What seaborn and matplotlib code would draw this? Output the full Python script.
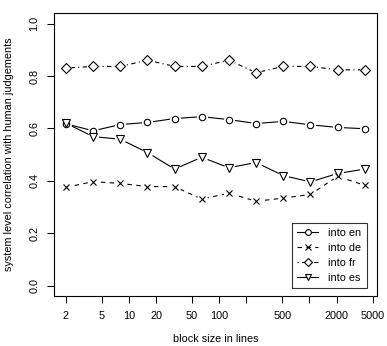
import numpy as np
import pandas as pd
import matplotlib
matplotlib.use("Agg")
import matplotlib.pyplot as plt
from matplotlib.lines import Line2D
import seaborn as sns

block_sizes = [2, 4, 8, 16, 32, 64, 128, 256, 512, 1024, 2048, 4096]
into_en = [0.618, 0.591, 0.615, 0.623, 0.638, 0.645, 0.634, 0.619, 0.627, 0.614, 0.604, 0.599]
into_de = [0.375, 0.397, 0.390, 0.378, 0.378, 0.330, 0.353, 0.322, 0.334, 0.348, 0.417, 0.383]
into_fr = [0.831, 0.837, 0.837, 0.861, 0.837, 0.837, 0.861, 0.813, 0.837, 0.837, 0.824, 0.824]
into_es = [0.620, 0.569, 0.559, 0.508, 0.445, 0.490, 0.450, 0.470, 0.420, 0.396, 0.428, 0.445]
series_names = ["into en", "into de", "into fr", "into es"]
x_ticks = [2, 5, 10, 20, 50, 100, 200, 500, 1000, 2000, 5000]
x_tick_labels = ["2", "5", "10", "20", "50", "100", "", "500", "", "2000", "5000"]
y_ticks = [0.0, 0.2, 0.4, 0.6, 0.8, 1.0]
y_tick_labels = ["0.0", "0.2", "0.4", "0.6", "0.8", "1.0"]

sns.set_style("white")
plt.rcParams["font.family"] = ["Liberation Sans", "DejaVu Sans"]

values = {"into en": into_en, "into de": into_de, "into fr": into_fr, "into es": into_es}
df = pd.DataFrame(
    [(b, v, name) for name in series_names for b, v in zip(block_sizes, values[name])],
    columns=["block", "corr", "lang"],
)

dashes = {"into en": "", "into de": (4, 4), "into fr": (1, 3, 4, 3), "into es": ""}
markers = {"into en": "o", "into de": "x", "into fr": "D", "into es": "v"}
msize = {"into en": 4.6, "into de": 4.8, "into fr": 4.8, "into es": 5.3}

fig = plt.figure(figsize=(3.87, 3.46), dpi=100)
ax = fig.add_axes([54 / 387, 1 - 296 / 346, (376.7 - 54) / 387, (296 - 13.3) / 346])

sns.lineplot(data=df, x="block", y="corr", style="lang", dashes=dashes,
             color="black", lw=0.8, legend=False, ax=ax, zorder=2)

for name in series_names:
    sub = df[df["lang"] == name]
    ax.plot(sub["block"], sub["corr"], ls="none", marker="o", ms=8.0,
            mfc="white", mec="none", zorder=3)
for name in series_names:
    sub = df[df["lang"] == name]
    ax.plot(sub["block"], sub["corr"], ls="none", marker=markers[name], ms=msize[name],
            mfc="white" if name != "into de" else "black", mec="black", mew=0.8, zorder=4)

ax.set_xscale("log")
lo, hi = np.log10(block_sizes[0]), np.log10(block_sizes[-1])
pad = 0.04 * (hi - lo)
ax.set_xlim(10 ** (lo - pad), 10 ** (hi + pad))
ax.set_ylim(-0.04, 1.04)

ax.set_xticks(x_ticks)
ax.set_xticklabels(x_tick_labels)
ax.xaxis.set_minor_locator(matplotlib.ticker.NullLocator())
ax.set_yticks(y_ticks)
ax.set_yticklabels(y_tick_labels, rotation=90, va="center")

ax.tick_params(axis="both", direction="out", length=5, width=0.75, color="black",
               labelsize=7.8, labelcolor="black")
ax.tick_params(axis="x", pad=5.5, bottom=True)
ax.tick_params(axis="y", pad=5.5, left=True)

for s in ax.spines.values():
    s.set_color("black")
    s.set_linewidth(0.8)

ax.set_xlabel("block size in lines", fontsize=7.8, color="black")
ax.set_ylabel("system level correlation with human judgements", fontsize=7.8, color="black")
ax.xaxis.set_label_coords(0.5, -0.133)
ax.yaxis.set_label_coords(-0.125, 0.5)

handles = []
for name in series_names:
    handles.append(Line2D([0], [0], color="black", lw=0.8,
                          dashes=dashes[name] if dashes[name] else (None, None),
                          marker=markers[name], ms=msize[name] * 0.9,
                          mfc="white" if name != "into de" else "black", mec="black", mew=0.8))
leg = ax.legend(handles, series_names, loc="lower right", bbox_to_anchor=(0.969, 0.028),
                borderaxespad=0, fontsize=7.8, frameon=True, fancybox=False,
                handlelength=1.95, handletextpad=0.9, labelspacing=0.45, borderpad=0.5,
                markerscale=1.0)
leg.get_frame().set_edgecolor("black")
leg.get_frame().set_linewidth(0.8)
for t in leg.get_texts():
    t.set_color("black")

fig.savefig("out.png", dpi=100)
